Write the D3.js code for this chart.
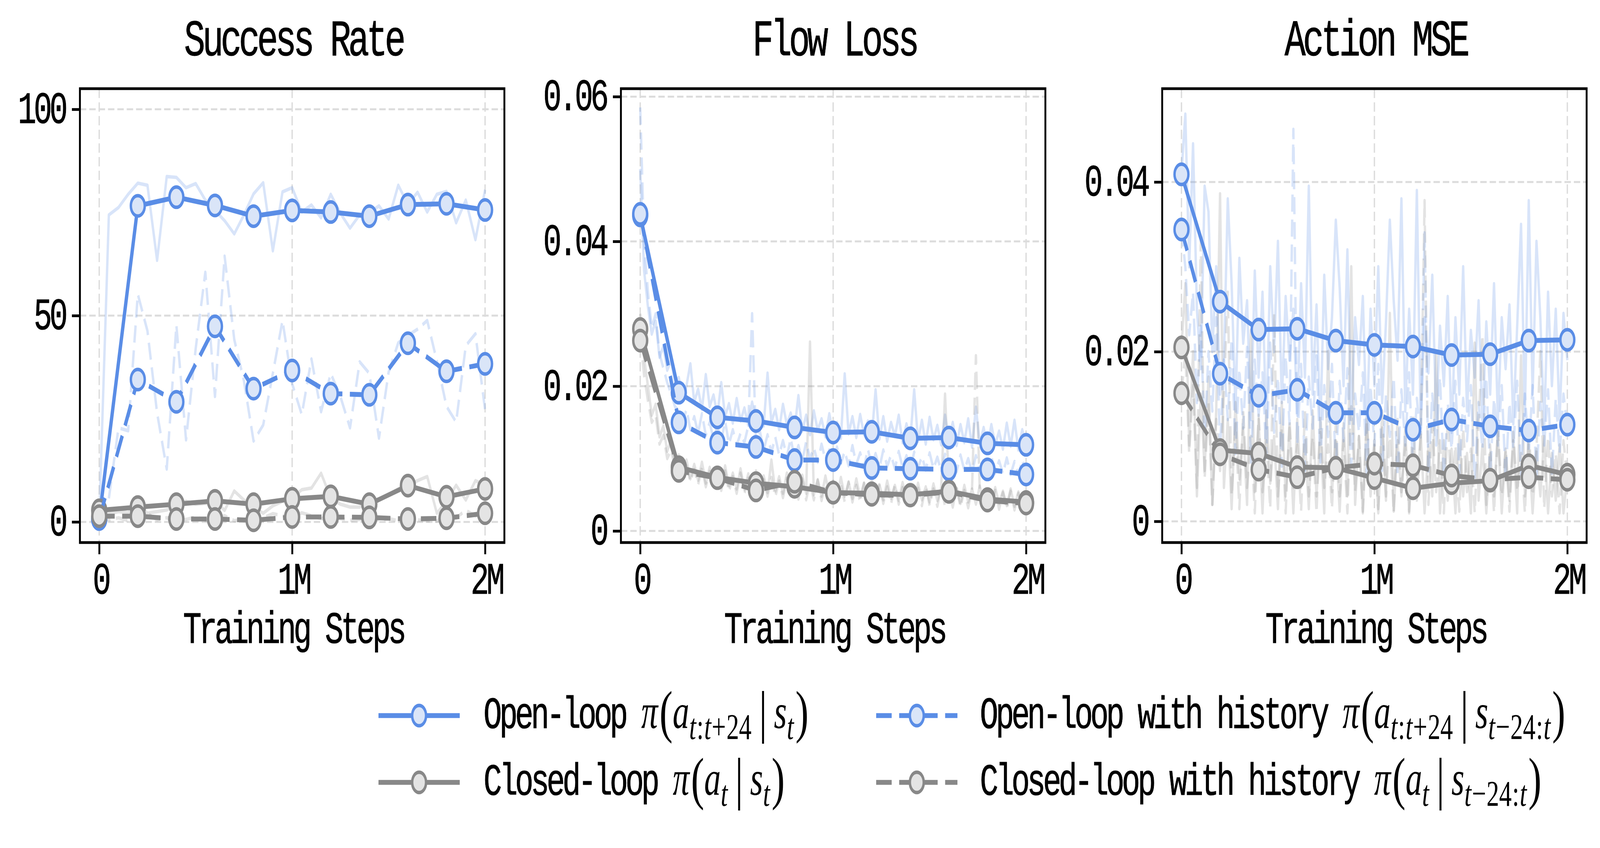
<!DOCTYPE html>
<html><head><meta charset="utf-8">
<script src="https://cdn.jsdelivr.net/npm/d3@7"></script>
<style>html,body{margin:0;padding:0;background:#fff;width:100%;height:100%;overflow:hidden}svg{display:block;width:100vw;height:100vh}</style>
</head><body>
<svg id="chart" viewBox="0 0 5986 2171" preserveAspectRatio="none"></svg>
<script>
// ---------------- DATA ----------------
const mainSteps = [0, 0.2, 0.4, 0.6, 0.8, 1.0, 1.2, 1.4, 1.6, 1.8, 2.0]; // millions
const srRawSteps = d3.range(41).map(i => i * 0.05);
const lossRawSteps = d3.range(101).map(i => i * 0.02);

const xTickVals = [0, 1, 2];
const xTickLabels = ['0', '1M', '2M'];
const panelTitles = ['Success Rate', 'Flow Loss', 'Action MSE'];
const xLabel = 'Training Steps';
const srTicks = [0, 50, 100];
const flowTicks = [0, 0.02, 0.04, 0.06];
const mseTicks = [0, 0.02, 0.04];

// Success Rate (main, every 0.2M)
const srOpen       = [0.7, 76.6, 78.7, 76.7, 74.1, 75.5, 75.1, 74.1, 76.9, 77.1, 75.6];
const srClosed     = [2.8, 3.6, 4.3, 5.1, 4.3, 5.6, 6.2, 4.3, 8.8, 6.1, 8.0];
const srOpenHist   = [0.7, 34.5, 29.1, 47.4, 32.3, 36.7, 31.1, 30.8, 43.3, 36.5, 38.3];
const srClosedHist = [1.4, 1.4, 0.7, 0.7, 0.4, 1.2, 1.2, 1.1, 0.7, 0.9, 2.1];
// Success Rate raw (every 0.05M)
const srRawOpen = [0.7,74.4,76.2,79.4,82.1,81.6,63.4,83.7,83.5,81.0,82.0,78.0,75.5,73.0,69.8,74.4,79.5,82.2,65.7,80.0,81.0,75.1,76.8,73.7,79.4,74.8,71.2,74.4,74.9,76.6,73.4,81.6,76.9,79.9,75.1,79.4,80.1,72.5,78.0,68.4,80.5];
const srRawClosed = [2.8,2.0,2.5,2.2,4.3,2.1,2.5,2.9,4.3,5.0,4.3,4.5,5.0,2.8,7.5,5.3,3.6,2.1,3.9,5.0,5.7,7.8,8.2,11.8,5.8,4.3,3.6,3.6,5.0,5.6,6.6,8.0,8.9,10.0,11.0,2.1,5.0,8.9,5.3,10.0,8.9];
const srRawOpenHist = [0.7,5.7,22.8,22.1,55.2,46.3,26.4,12.8,47.7,19.9,42.0,60.5,30.4,64.4,44.2,34.2,19.6,23.5,36.0,48.8,33.5,26.0,39.5,26.7,36.0,30.4,22.8,38.8,36.0,20.3,36.3,43.4,45.2,46.7,48.8,39.0,28.0,24.2,42.7,45.6,27.1];
const srRawClosedHist = [1.5,0.5,1.0,0.3,1.4,2.0,0.5,1.0,0.3,0.6,1.2,0.4,0.8,1.5,0.3,0.6,0.3,1.0,2.0,1.5,1.2,2.2,1.5,0.8,1.2,0.8,0.4,0.6,1.1,0.4,0.8,0.3,0.7,0.5,0.3,0.2,1.5,1.0,2.8,1.5,2.1];

// Flow Loss (main)
const flowOpen       = [0.0436, 0.0191, 0.0157, 0.0152, 0.0143, 0.0136, 0.0137, 0.0128, 0.0129, 0.0121, 0.0119];
const flowClosed     = [0.0279, 0.0088, 0.0074, 0.0066, 0.0061, 0.0053, 0.0052, 0.0050, 0.0055, 0.0044, 0.0040];
const flowOpenHist   = [0.0438, 0.0150, 0.0122, 0.0116, 0.0098, 0.0098, 0.0087, 0.0086, 0.0085, 0.0085, 0.0078];
const flowClosedHist = [0.0263, 0.0083, 0.0073, 0.0056, 0.0068, 0.0053, 0.0050, 0.0049, 0.0054, 0.0042, 0.0038];
// Flow Loss raw (every 0.02M)
const flowRawOpen = [0.0500,0.0360,0.0310,0.0272,0.0290,0.0240,0.0255,0.0222,0.0236,0.0205,
 0.0212,0.0186,0.0201,0.0231,0.0178,0.0196,0.0168,0.0216,0.0172,0.0188,
 0.0160,0.0205,0.0158,0.0176,0.0149,0.0183,0.0152,0.0170,0.0146,0.0178,
 0.0150,0.0162,0.0145,0.0218,0.0150,0.0168,0.0140,0.0175,0.0147,0.0163,
 0.0141,0.0187,0.0138,0.0160,0.0133,0.0166,0.0139,0.0155,0.0130,0.0162,
 0.0135,0.0150,0.0128,0.0217,0.0134,0.0158,0.0129,0.0161,0.0133,0.0152,
 0.0130,0.0195,0.0127,0.0158,0.0124,0.0150,0.0131,0.0160,0.0122,0.0148,
 0.0126,0.0195,0.0124,0.0153,0.0120,0.0157,0.0126,0.0146,0.0119,0.0160,
 0.0124,0.0150,0.0118,0.0147,0.0122,0.0155,0.0116,0.0171,0.0120,0.0143,
 0.0115,0.0147,0.0119,0.0138,0.0113,0.0149,0.0117,0.0153,0.0112,0.0140,
 0.0118];
const flowRawOpenHist = [0.0585,0.0400,0.0330,0.0280,0.0300,0.0245,0.0225,0.0205,0.0190,0.0172,
 0.0165,0.0150,0.0168,0.0140,0.0158,0.0135,0.0162,0.0132,0.0150,0.0127,
 0.0145,0.0124,0.0152,0.0120,0.0140,0.0118,0.0135,0.0122,0.0145,0.0300,
 0.0120,0.0138,0.0112,0.0133,0.0108,0.0130,0.0105,0.0125,0.0102,0.0128,
 0.0100,0.0118,0.0097,0.0123,0.0100,0.0115,0.0095,0.0120,0.0098,0.0112,
 0.0096,0.0116,0.0093,0.0110,0.0090,0.0118,0.0092,0.0108,0.0088,0.0113,
 0.0090,0.0107,0.0087,0.0112,0.0089,0.0105,0.0086,0.0110,0.0088,0.0104,
 0.0085,0.0109,0.0087,0.0103,0.0084,0.0108,0.0086,0.0102,0.0083,0.0106,
 0.0085,0.0101,0.0082,0.0105,0.0084,0.0100,0.0081,0.0104,0.0083,0.0099,
 0.0082,0.0103,0.0080,0.0097,0.0079,0.0101,0.0078,0.0096,0.0077,0.0098,
 0.0078];
const flowRawClosed = [0.0300,0.0240,0.0200,0.0160,0.0175,0.0130,0.0145,0.0110,0.0125,0.0095,
 0.0105,0.0080,0.0098,0.0072,0.0092,0.0070,0.0095,0.0066,0.0088,0.0064,
 0.0085,0.0060,0.0090,0.0062,0.0080,0.0058,0.0086,0.0057,0.0079,0.0055,
 0.0083,0.0056,0.0076,0.0053,0.0098,0.0055,0.0075,0.0052,0.0080,0.0054,
 0.0072,0.0050,0.0077,0.0052,0.0261,0.0050,0.0071,0.0048,0.0076,0.0049,
 0.0068,0.0046,0.0074,0.0048,0.0067,0.0045,0.0072,0.0047,0.0066,0.0044,
 0.0070,0.0046,0.0064,0.0043,0.0069,0.0045,0.0063,0.0042,0.0067,0.0044,
 0.0062,0.0041,0.0066,0.0043,0.0061,0.0040,0.0065,0.0042,0.0060,0.0189,
 0.0064,0.0041,0.0059,0.0038,0.0063,0.0040,0.0058,0.0037,0.0062,0.0039,
 0.0057,0.0036,0.0060,0.0038,0.0055,0.0035,0.0058,0.0034,0.0054,0.0033,
 0.0040];
const flowRawClosedHist = [0.0270,0.0215,0.0180,0.0150,0.0160,0.0120,0.0132,0.0100,0.0112,0.0088,
 0.0096,0.0074,0.0090,0.0068,0.0085,0.0064,0.0087,0.0061,0.0082,0.0058,
 0.0079,0.0056,0.0083,0.0054,0.0075,0.0052,0.0080,0.0051,0.0073,0.0050,
 0.0076,0.0049,0.0071,0.0048,0.0074,0.0047,0.0069,0.0046,0.0073,0.0045,
 0.0068,0.0044,0.0072,0.0043,0.0067,0.0043,0.0070,0.0042,0.0065,0.0042,
 0.0069,0.0041,0.0064,0.0040,0.0068,0.0040,0.0063,0.0039,0.0066,0.0039,
 0.0062,0.0038,0.0065,0.0038,0.0061,0.0037,0.0064,0.0037,0.0060,0.0036,
 0.0063,0.0036,0.0059,0.0035,0.0062,0.0035,0.0058,0.0034,0.0061,0.0034,
 0.0057,0.0033,0.0060,0.0033,0.0056,0.0032,0.0059,0.0242,0.0055,0.0031,
 0.0054,0.0031,0.0056,0.0030,0.0053,0.0030,0.0055,0.0029,0.0052,0.0029,
 0.0036];

// Action MSE (main)
const mseOpen       = [0.0409, 0.0259, 0.0226, 0.0227, 0.0213, 0.0208, 0.0206, 0.0196, 0.0197, 0.0213, 0.0214];
const mseClosed     = [0.0205, 0.0084, 0.0080, 0.0064, 0.0063, 0.0051, 0.0039, 0.0045, 0.0048, 0.0066, 0.0055];
const mseOpenHist   = [0.0344, 0.0174, 0.0148, 0.0155, 0.0128, 0.0128, 0.0108, 0.0120, 0.0112, 0.0107, 0.0114];
const mseClosedHist = [0.0151, 0.0079, 0.0061, 0.0052, 0.0063, 0.0068, 0.0066, 0.0054, 0.0049, 0.0052, 0.0049];
// Action MSE raw (every 0.02M)
const mseRawOpen = [0.0410,0.0480,0.0300,0.0445,0.0250,0.0180,0.0395,0.0365,0.0200,0.0300,
 0.0150,0.0190,0.0380,0.0280,0.0130,0.0310,0.0210,0.0260,0.0120,0.0295,
 0.0170,0.0270,0.0110,0.0300,0.0200,0.0330,0.0140,0.0265,0.0190,0.0250,
 0.0125,0.0280,0.0170,0.0395,0.0150,0.0255,0.0110,0.0290,0.0180,0.0240,
 0.0355,0.0275,0.0160,0.0320,0.0120,0.0240,0.0185,0.0265,0.0105,0.0250,
 0.0160,0.0300,0.0140,0.0235,0.0355,0.0260,0.0190,0.0380,0.0130,0.0250,
 0.0150,0.0390,0.0110,0.0240,0.0175,0.0290,0.0120,0.0230,0.0160,0.0265,
 0.0105,0.0240,0.0150,0.0300,0.0130,0.0225,0.0170,0.0260,0.0110,0.0235,
 0.0150,0.0280,0.0120,0.0240,0.0180,0.0255,0.0115,0.0230,0.0350,0.0125,
 0.0378,0.0150,0.0330,0.0240,0.0110,0.0270,0.0160,0.0250,0.0120,0.0245,
 0.0190];
const mseRawOpenHist = [0.0344,0.0300,0.0220,0.0270,0.0140,0.0230,0.0100,0.0200,0.0130,0.0240,
 0.0085,0.0190,0.0120,0.0215,0.0080,0.0180,0.0110,0.0205,0.0070,0.0190,
 0.0125,0.0175,0.0075,0.0210,0.0105,0.0170,0.0065,0.0195,0.0115,0.0462,
 0.0090,0.0185,0.0060,0.0170,0.0110,0.0195,0.0070,0.0160,0.0100,0.0185,
 0.0060,0.0165,0.0095,0.0180,0.0065,0.0150,0.0105,0.0175,0.0055,0.0160,
 0.0090,0.0185,0.0060,0.0150,0.0100,0.0170,0.0055,0.0155,0.0090,0.0175,
 0.0060,0.0145,0.0095,0.0340,0.0055,0.0150,0.0090,0.0170,0.0050,0.0140,
 0.0085,0.0165,0.0055,0.0145,0.0095,0.0160,0.0050,0.0140,0.0085,0.0170,
 0.0055,0.0145,0.0090,0.0160,0.0050,0.0140,0.0085,0.0165,0.0055,0.0150,
 0.0080,0.0160,0.0050,0.0140,0.0090,0.0155,0.0055,0.0145,0.0080,0.0150,
 0.0110];
const mseRawClosed = [0.0205,0.0280,0.0090,0.0200,0.0030,0.0150,0.0060,0.0170,0.0020,0.0130,
 0.0386,0.0040,0.0120,0.0015,0.0140,0.0050,0.0110,0.0020,0.0225,0.0035,
 0.0120,0.0010,0.0130,0.0045,0.0100,0.0015,0.0140,0.0030,0.0110,0.0010,
 0.0120,0.0040,0.0095,0.0015,0.0130,0.0030,0.0105,0.0010,0.0200,0.0035,
 0.0095,0.0012,0.0115,0.0030,0.0300,0.0020,0.0100,0.0010,0.0120,0.0030,
 0.0090,0.0010,0.0110,0.0025,0.0245,0.0012,0.0095,0.0030,0.0110,0.0010,
 0.0085,0.0025,0.0105,0.0010,0.0090,0.0030,0.0200,0.0010,0.0095,0.0025,
 0.0085,0.0010,0.0100,0.0030,0.0080,0.0010,0.0210,0.0025,0.0090,0.0010,
 0.0080,0.0030,0.0105,0.0010,0.0085,0.0025,0.0095,0.0010,0.0195,0.0030,
 0.0090,0.0010,0.0085,0.0030,0.0100,0.0010,0.0080,0.0025,0.0090,0.0010,
 0.0055];
const mseRawClosedHist = [0.0151,0.0200,0.0080,0.0160,0.0040,0.0330,0.0050,0.0140,0.0020,0.0120,
 0.0060,0.0150,0.0270,0.0030,0.0115,0.0015,0.0130,0.0040,0.0100,0.0010,
 0.0125,0.0035,0.0095,0.0015,0.0245,0.0030,0.0110,0.0010,0.0120,0.0040,
 0.0090,0.0012,0.0130,0.0030,0.0100,0.0010,0.0125,0.0040,0.0090,0.0015,
 0.0115,0.0030,0.0095,0.0010,0.0135,0.0035,0.0100,0.0012,0.0120,0.0040,
 0.0095,0.0015,0.0130,0.0030,0.0100,0.0010,0.0120,0.0035,0.0090,0.0012,
 0.0125,0.0030,0.0100,0.0378,0.0020,0.0115,0.0035,0.0095,0.0010,0.0120,
 0.0030,0.0090,0.0012,0.0110,0.0035,0.0085,0.0010,0.0115,0.0220,0.0020,
 0.0090,0.0010,0.0110,0.0030,0.0085,0.0012,0.0105,0.0035,0.0080,0.0010,
 0.0110,0.0030,0.0085,0.0200,0.0015,0.0100,0.0030,0.0080,0.0010,0.0095,
 0.0050];

const legendNames = ['Open-loop ', 'Closed-loop ', 'Open-loop with history ', 'Closed-loop with history '];
const legendSubA = ['t:t+24', 't', 't:t+24', 't'];
const legendSubS = ['t', 't', 't\u221224:t', 't\u221224:t'];

// ---------------- STYLE ----------------
const BLUE = '#5A8DE6', BLUE_FILL = '#DAE5F8', GRAY = '#888888', GRAY_FILL = '#E4E4E4';
const MONO = '"Liberation Mono", "DejaVu Sans Mono", monospace';
const SERIF = '"Liberation Serif", "DejaVu Serif", serif';
const seriesStyle = [
  {color: BLUE, fill: BLUE_FILL, dashed: false},
  {color: GRAY, fill: GRAY_FILL, dashed: false},
  {color: BLUE, fill: BLUE_FILL, dashed: true},
  {color: GRAY, fill: GRAY_FILL, dashed: true}
];
const MAIN_DASH = '58,28', RAW_DASH = '44,20';
const FS = 115, LS = -10;   // mono text size/letter spacing
const TOP = 227, BOTTOM = 1389, PW = 1588;
const LW = 12.5, MR = 26, MSW = 9;

const panels = [
  {left: 299, yDomain: [-5, 105], ticks: srTicks, fmt: d => String(d), rawX: srRawSteps,
   raw: [srRawOpen, srRawClosed, srRawOpenHist, srRawClosedHist],
   main: [srOpen, srClosed, srOpenHist, srClosedHist]},
  {left: 2323, yDomain: [-0.0016, 0.0611], ticks: flowTicks, fmt: d => d === 0 ? '0' : d.toFixed(2), rawX: lossRawSteps,
   raw: [flowRawOpen, flowRawClosed, flowRawOpenHist, flowRawClosedHist],
   main: [flowOpen, flowClosed, flowOpenHist, flowClosedHist]},
  {left: 4348, yDomain: [-0.0025, 0.0510], ticks: mseTicks, fmt: d => d === 0 ? '0' : d.toFixed(2), rawX: lossRawSteps,
   raw: [mseRawOpen, mseRawClosed, mseRawOpenHist, mseRawClosedHist],
   main: [mseOpen, mseClosed, mseOpenHist, mseClosedHist]}
];

const svg = d3.select('#chart');
svg.append('rect').attr('width', 5986).attr('height', 2171).attr('fill', '#fff');

function monoText(g, txt, x, y, size, ls, anchor) {
  return g.append('text').attr('x', x).attr('y', y)
    .attr('font-family', MONO).attr('font-size', size)
    .attr('letter-spacing', ls).attr('text-anchor', anchor || 'start')
    .attr('fill', '#000').attr('stroke', '#000').attr('stroke-width', 1.2)
    .text(txt);
}

panels.forEach((p, pi) => {
  const x = d3.scaleLinear().domain([-0.1, 2.1]).range([p.left, p.left + PW]);
  const y = d3.scaleLinear().domain(p.yDomain).range([BOTTOM, TOP]);
  const g = svg.append('g');

  // grid
  const grid = g.append('g').attr('stroke', '#DCDCDC').attr('stroke-width', 5).attr('stroke-dasharray', '24,11');
  xTickVals.forEach(v => grid.append('line').attr('x1', x(v)).attr('x2', x(v)).attr('y1', TOP).attr('y2', BOTTOM));
  p.ticks.forEach(v => grid.append('line').attr('x1', p.left).attr('x2', p.left + PW).attr('y1', y(v)).attr('y2', y(v)));

  const clipId = 'clip' + pi;
  svg.append('clipPath').attr('id', clipId).append('rect')
    .attr('x', p.left).attr('y', TOP).attr('width', PW).attr('height', BOTTOM - TOP);

  // raw traces
  const rawG = g.append('g').attr('clip-path', `url(#${clipId})`);
  p.raw.forEach((arr, si) => {
    const st = seriesStyle[si];
    const line = d3.line().x((d, i) => x(p.rawX[i])).y(d => y(d));
    rawG.append('path').datum(arr).attr('d', line)
      .attr('fill', 'none').attr('stroke', st.color).attr('stroke-opacity', 0.24)
      .attr('stroke-width', 9).attr('stroke-linejoin', 'round')
      .attr('stroke-dasharray', st.dashed ? RAW_DASH : null);
  });

  // main series
  p.main.forEach((arr, si) => {
    const st = seriesStyle[si];
    const line = d3.line().x((d, i) => x(mainSteps[i])).y(d => y(d));
    g.append('path').datum(arr).attr('d', line)
      .attr('fill', 'none').attr('stroke', st.color).attr('stroke-width', LW)
      .attr('stroke-linejoin', 'round')
      .attr('stroke-dasharray', st.dashed ? MAIN_DASH : null);
    g.append('g').selectAll('circle').data(arr).join('circle')
      .attr('cx', (d, i) => x(mainSteps[i])).attr('cy', d => y(d)).attr('r', MR)
      .attr('fill', st.fill).attr('stroke', st.color).attr('stroke-width', MSW);
  });

  // frame
  g.append('rect').attr('x', p.left).attr('y', TOP).attr('width', PW).attr('height', BOTTOM - TOP)
    .attr('fill', 'none').attr('stroke', '#000').attr('stroke-width', 7);

  // axes
  const xa = g.append('g').attr('transform', `translate(0,${BOTTOM})`)
    .call(d3.axisBottom(x).tickValues(xTickVals).tickFormat((d, i) => xTickLabels[i]).tickSize(30));
  xa.select('.domain').remove();
  xa.selectAll('line').attr('stroke', '#000').attr('stroke-width', 7);
  xa.selectAll('text').remove();
  xTickVals.forEach((v, i) => monoText(g, xTickLabels[i], x(v) + 5, 1520, FS, LS, 'middle'));

  const ya = g.append('g').attr('transform', `translate(${p.left},0)`)
    .call(d3.axisLeft(y).tickValues(p.ticks).tickFormat(p.fmt).tickSize(30));
  ya.select('.domain').remove();
  ya.selectAll('line').attr('stroke', '#000').attr('stroke-width', 7);
  ya.selectAll('text').remove();
  p.ticks.forEach(v => monoText(g, p.fmt(v), p.left - 55, y(v) + 35, FS, LS, 'end'));

  // title and label
  monoText(g, panelTitles[pi], p.left + PW / 2 + 5, 142, 132, -11, 'middle');
  monoText(g, xLabel, p.left + PW / 2 + 5, 1646, FS, LS, 'middle');
});

// ---------------- LEGEND ----------------
const legend = svg.append('g');
const legCols = [{hx: 1416, tx: 1809}, {hx: 3278, tx: 3666}];
const legRows = [1832, 2003];
const HL = 304;

function mathPieces(subA, subS) {
  const SUB = 94, DY = 28;
  const sub = s => {
    const out = [];
    let buf = '';
    for (const ch of s) {
      if (/[0-9]/.test(ch)) { buf += ch; continue; }
      if (buf) { out.push({t: buf, size: SUB, dy: DY}); buf = ''; }
      out.push({t: ch, it: /[a-z]/.test(ch), size: SUB, dy: DY});
    }
    if (buf) out.push({t: buf, size: SUB, dy: DY});
    return out;
  };
  return [
    {t: '\u03C0', it: true, size: 124},
    {t: '(', size: 148, dxB: 6, dy: 8, big: true},
    {t: 'a', it: true, size: 124},
    ...sub(subA),
    {t: '|', size: 148, dxB: 26, dxA: 26, dy: 8, big: true},
    {t: 's', it: true, size: 124},
    ...sub(subS),
    {t: ')', size: 148, dxB: 4, dy: 8, big: true}
  ];
}

legendNames.forEach((name, k) => {
  const col = legCols[Math.floor(k / 2)];
  const ry = legRows[k % 2];
  const st = seriesStyle[k];
  legend.append('line').attr('x1', col.hx).attr('x2', col.hx + HL).attr('y1', ry).attr('y2', ry)
    .attr('stroke', st.color).attr('stroke-width', LW)
    .attr('stroke-dasharray', st.dashed ? MAIN_DASH : null);
  legend.append('circle').attr('cx', col.hx + HL / 2).attr('cy', ry).attr('r', MR)
    .attr('fill', st.fill).attr('stroke', st.color).attr('stroke-width', MSW);
  monoText(legend, name, col.tx, ry + 32, FS, LS, 'start');
  let cx = col.tx + name.length * (FS * 0.6 + LS);
  mathPieces(legendSubA[k], legendSubS[k]).forEach(pc => {
    cx += pc.dxB || 0;
    const el = legend.append('text').attr('x', cx).attr('y', ry + 32 + (pc.dy || 0))
      .attr('font-family', SERIF).attr('font-size', pc.size)
      .attr('font-style', pc.it ? 'italic' : 'normal').attr('fill', '#000')
      .attr('font-weight', pc.big ? 300 : 400).text(pc.t);
    cx += el.node().getComputedTextLength() + (pc.dxA || 0) + (pc.dy && !pc.big ? 2 : 0);
  });
});
</script>
</body></html>
